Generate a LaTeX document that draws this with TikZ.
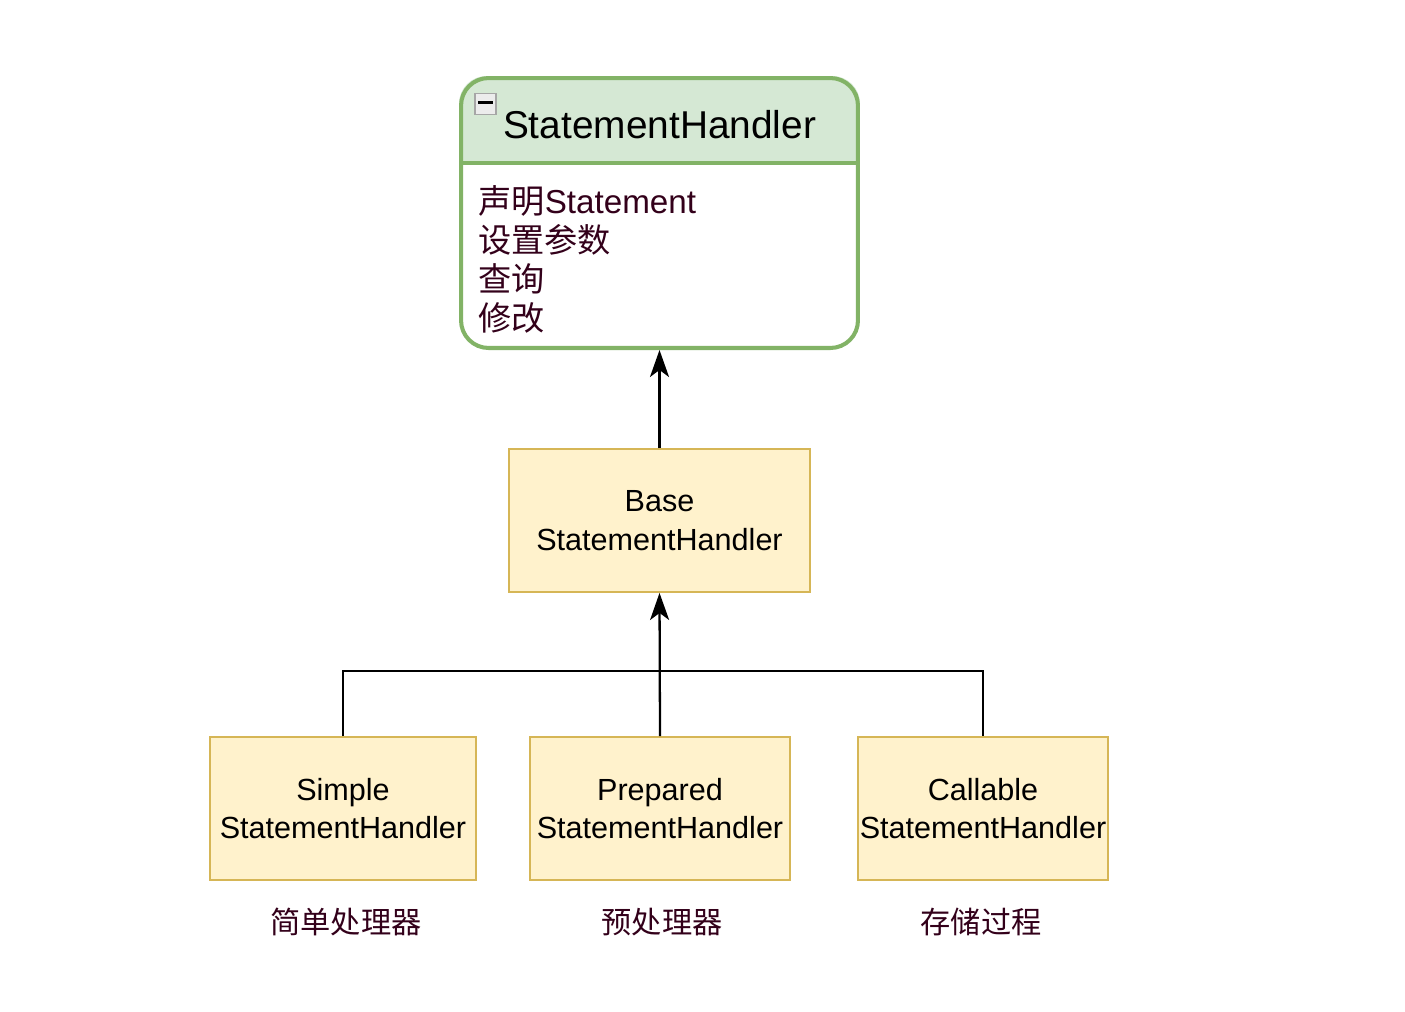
\documentclass[tikz,border=0pt]{standalone}
\usepackage{fontspec}
\setmainfont{Liberation Sans}
\newfontfamily\cjk{Noto Sans CJK SC}
\usetikzlibrary{arrows.meta,backgrounds}
\definecolor{umlgreen}{HTML}{82B366}
\definecolor{umlhead}{HTML}{D5E8D4}
\definecolor{clsline}{HTML}{D6B656}
\definecolor{clsfill}{HTML}{FFF2CC}
\definecolor{ink}{HTML}{33001A}
\newcommand{\cls}[4]{\node[cls,minimum width=#3] (#1) at (#2) {#4}}
\newcommand{\note}[3]{\node[note] (#1) at (#2) {\cjk #3}}

\begin{document}
\begin{tikzpicture}[x=0.02cm,y=-0.02cm,
	epais/.style={line width=1.3pt},
	cls/.style={draw=clsline,fill=clsfill,line width=1.1pt,minimum height=2.86cm,
		inner sep=0pt,align=center,font=\fontsize{17.4}{22.1}\selectfont},
	note/.style={text=ink,inner sep=0pt,font=\fontsize{17.2}{20}\selectfont},
	link/.style={epais,-{Stealth[length=5.4mm,width=3.8mm,inset=1.4mm]}}]
\useasboundingbox (0,0) rectangle (1405,1011);
%
	% interface
	\node[draw=umlgreen,line width=2.3pt,rounded corners=0.55cm,
		minimum width=7.94cm,minimum height=5.4cm] (sh) at (659.5,213) {};
	\coordinate (sep) at (660,163);
	\begin{scope}[on background layer]
		\clip[rounded corners=0.55cm] (sh.south west) rectangle (sh.north east);
		\fill[umlhead] (sh.north west) rectangle (sh.east |- sep);
	\end{scope}
	\draw[umlgreen,line width=2.3pt] (sh.west |- sep) -- (sh.east |- sep);
	\node[draw=gray!70,fill=gray!15,line width=0.8pt,minimum size=0.42cm,inner sep=0pt] (fold) at (485.5,104) {};
	\draw[line width=1.4pt] ([xshift=0.08cm,yshift=0.03cm]fold.west) -- ([xshift=-0.08cm,yshift=0.03cm]fold.east);
	\node[font=\fontsize{22.1}{26}\selectfont,inner sep=0pt] (title) at (659.5,125) {StatementHandler};
	\node[anchor=west,align=left,text=ink,inner sep=0pt,
		font=\fontsize{18.9}{22.1}\selectfont] (members) at (478,259.5)
		{{\cjk 声明}Statement\\ {\cjk 设置参数}\\ {\cjk 查询}\\ {\cjk 修改}};
%
	% classes
	\cls{base}{659.5,520.5}{6.02cm}{Base\\StatementHandler};
	\cls{simple}{343,808.5}{5.32cm}{Simple\\StatementHandler};
	\cls{prepared}{660,808.5}{5.2cm}{Prepared\\StatementHandler};
	\cls{callable}{983,808.5}{5cm}{Callable\\StatementHandler};
%
	\note{simplenote}{346,922}{简单处理器};
	\note{preparednote}{662,922}{预处理器};
	\note{callablenote}{981,922}{存储过程};
%
	% inheritance
	\coordinate (joint) at (660,671);
	\draw[link] (base.north) -- (sh.south);
	\draw[link] (prepared.north) -- (base.south);
	\draw[epais] (simple.north) |- (joint) -| (callable.north);
%
\end{tikzpicture}
\end{document}
